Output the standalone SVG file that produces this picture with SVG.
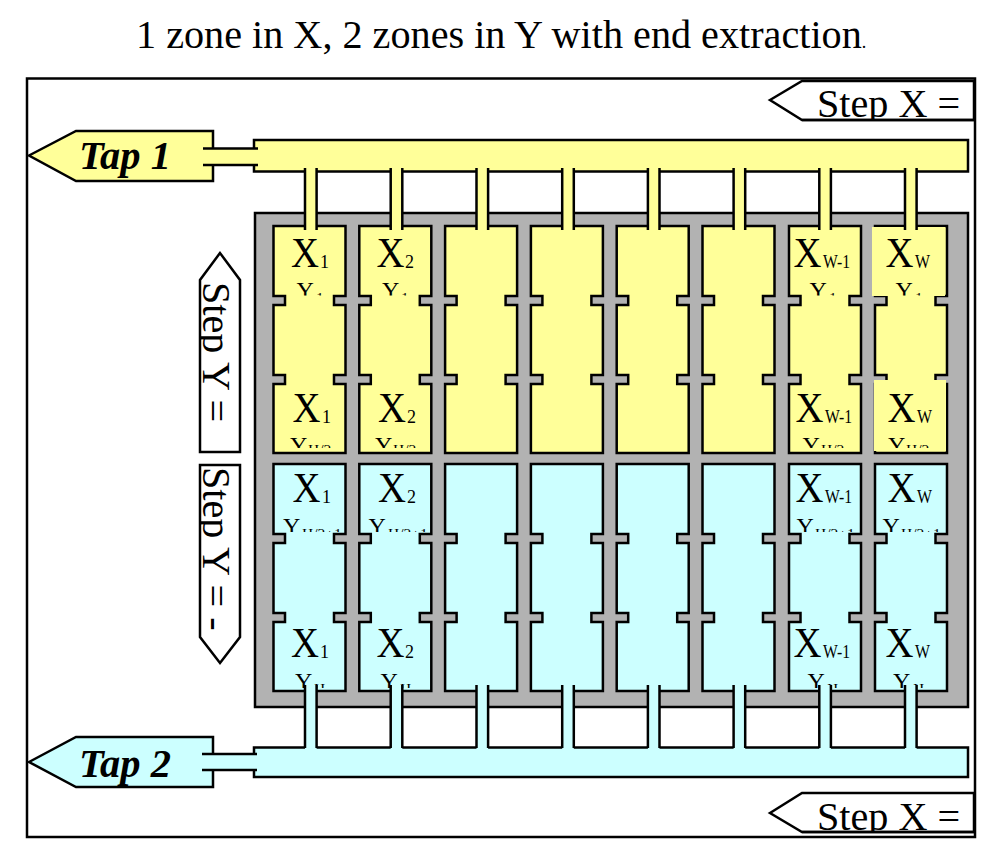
<svg xmlns="http://www.w3.org/2000/svg" width="1007" height="853" viewBox="0 0 1007 853">
<style>
text{font-family:"Liberation Serif","Times New Roman",serif;fill:#000}
.ln{stroke:#000;stroke-width:2.5;fill:none}
.y{fill:#ffff99;stroke:#000;stroke-width:2.5}
.c{fill:#ccffff;stroke:#000;stroke-width:2.5}
.w{fill:#fff;stroke:#000;stroke-width:2.5}
.yf{fill:#ffff99}
.cf{fill:#ccffff}
.t{font-size:40.2px}
.tap{font-size:40.500px;font-weight:bold;font-style:italic}
.X{font-size:42px}
.Y{font-size:24px}
.s{font-size:18px}
.s2{font-size:15.500px}
</style>
<defs>
<path id="cell" d="M0 0H72V70H60.5V79H72V149H60.5V158H72V227H0V158H11.5V149H0V79H11.5V70H0Z"/>
<g id="tubeY"><rect x="-5.8" y="-1" width="11.6" height="62" class="yf"/><path class="ln" d="M-5.8 -2V60M5.8 -2V60"/></g>
<g id="tubeC"><rect x="-5.8" y="0" width="11.6" height="65" class="cf"/><path class="ln" d="M-5.8 0V63M5.8 0V63"/></g>
<clipPath id="cTop"><polygon points="770,100 802,81 974,81 974,120 802,120"/></clipPath>
<clipPath id="cBot"><polygon points="770,813 802,793 974,793 974,832 802,832"/></clipPath>
<clipPath id="cS1"><rect x="200" y="253" width="40" height="199"/></clipPath>
<clipPath id="cS2"><rect x="200" y="465" width="40" height="198"/></clipPath>
<clipPath id="r1"><rect x="260" y="226" width="700" height="69.5"/></clipPath>
<clipPath id="r2"><rect x="260" y="384" width="700" height="64"/></clipPath>
<clipPath id="r3"><rect x="260" y="465" width="700" height="67"/></clipPath>
<clipPath id="r4"><rect x="260" y="623" width="700" height="65"/></clipPath>
</defs>
<rect width="1007" height="853" fill="#fff"/>
<text id="title" class="t" x="136" y="48">1 zone in X, 2 zones in Y with end extraction<tspan font-size="18">.</tspan></text>
<rect id="frame" x="27" y="78.500" width="948" height="758.500" fill="none" stroke="#000" stroke-width="2.500"/>

<g id="step-x-top"><polygon class="w" points="770,100 802,81 974,81 974,120 802,120"/><g clip-path="url(#cTop)"><text class="t" x="817" y="117">Step X =</text></g><path class="ln" d="M802 120H974"/></g>
<g id="step-x-bottom"><polygon class="w" points="770,813 802,793 974,793 974,832 802,832"/><g clip-path="url(#cBot)"><text class="t" x="817" y="829.500">Step X =</text></g><path class="ln" d="M802 832H974"/></g>
<g id="step-y-plus"><polygon class="w" points="220,253 200,280 200,452 240,452 240,280"/><g clip-path="url(#cS1)"><text class="t" transform="translate(203 282) rotate(90)">Step Y =</text></g></g>
<g id="step-y-minus"><polygon class="w" points="200,465 240,465 240,637 220,663 200,637"/><g clip-path="url(#cS2)"><text class="t" transform="translate(203 467) rotate(90)">Step Y = -</text></g></g>

<g id="tap-1"><polygon class="y" points="29,155.500 76,131 213,131 213,181 76,181"/><text class="tap" x="79" y="169">Tap 1</text></g>
<g id="tap-2"><polygon class="c" points="29,762 76,737 213,737 213,787 76,787"/><text class="tap" x="79" y="776.500">Tap 2</text></g>
<g id="bus-1"><rect class="y" x="254" y="140" width="714" height="31.500"/></g>
<g id="bus-2"><rect class="c" x="254" y="747.500" width="714" height="29.500"/></g>

<g id="grid-frame"><rect x="255" y="213" width="713" height="494" fill="#b2b2b2" stroke="#000" stroke-width="2.500"/></g>

<g id="cells-yellow">
<g id="cell-y1"><use href="#cell" class="y" x="273.500" y="226"/></g>
<g id="cell-y2"><use href="#cell" class="y" x="359.300" y="226"/></g>
<g id="cell-y3"><use href="#cell" class="y" x="445.100" y="226"/></g>
<g id="cell-y4"><use href="#cell" class="y" x="530.900" y="226"/></g>
<g id="cell-y5"><use href="#cell" class="y" x="616.700" y="226"/></g>
<g id="cell-y6"><use href="#cell" class="y" x="702.500" y="226"/></g>
<g id="cell-y7"><use href="#cell" class="y" x="789" y="226"/></g>
<g id="cell-y8"><use href="#cell" class="y" x="875" y="226"/>
<rect class="yf" x="872" y="227" width="73" height="69"/><rect class="yf" x="874" y="380" width="72" height="71"/></g>
</g>
<g id="cells-cyan">
<g id="cell-c1"><use href="#cell" class="c" x="273.500" y="464"/></g>
<g id="cell-c2"><use href="#cell" class="c" x="359.300" y="464"/></g>
<g id="cell-c3"><use href="#cell" class="c" x="445.100" y="464"/></g>
<g id="cell-c4"><use href="#cell" class="c" x="530.900" y="464"/></g>
<g id="cell-c5"><use href="#cell" class="c" x="616.700" y="464"/></g>
<g id="cell-c6"><use href="#cell" class="c" x="702.500" y="464"/></g>
<g id="cell-c7"><use href="#cell" class="c" x="789" y="464"/></g>
<g id="cell-c8"><use href="#cell" class="c" x="875" y="464"/></g>
</g>

<g id="labels">
<text class="X" x="291" y="267" textLength="28" lengthAdjust="spacingAndGlyphs">X</text><text class="s" x="320" y="268">1</text>
<text class="X" x="376.500" y="267" textLength="28" lengthAdjust="spacingAndGlyphs">X</text><text class="s" x="405" y="268">2</text>
<text class="X" x="793.500" y="267" textLength="28" lengthAdjust="spacingAndGlyphs">X</text><text class="s" x="823" y="268" textLength="27" lengthAdjust="spacingAndGlyphs">W-1</text>
<text class="X" x="885.500" y="267" textLength="28" lengthAdjust="spacingAndGlyphs">X</text><text class="s" x="915" y="268" textLength="15" lengthAdjust="spacingAndGlyphs">W</text>
<g clip-path="url(#r1)">
<text class="Y" x="296.500" y="298">Y<tspan class="s2" x="316" y="303">1</tspan></text>
<text class="Y" x="382" y="298">Y<tspan class="s2" x="401" y="303">1</tspan></text>
<text class="Y" x="809.500" y="298">Y<tspan class="s2" x="829" y="303">1</tspan></text>
<text class="Y" x="895.500" y="298">Y<tspan class="s2" x="915" y="303">1</tspan></text>
</g>
<text class="X" x="292.500" y="422" textLength="28" lengthAdjust="spacingAndGlyphs">X</text><text class="s" x="322" y="423">1</text>
<text class="X" x="378" y="422" textLength="28" lengthAdjust="spacingAndGlyphs">X</text><text class="s" x="407" y="423">2</text>
<text class="X" x="795.500" y="422" textLength="28" lengthAdjust="spacingAndGlyphs">X</text><text class="s" x="825" y="423" textLength="27" lengthAdjust="spacingAndGlyphs">W-1</text>
<text class="X" x="887.500" y="422" textLength="28" lengthAdjust="spacingAndGlyphs">X</text><text class="s" x="917" y="423" textLength="15" lengthAdjust="spacingAndGlyphs">W</text>
<g clip-path="url(#r2)">
<text class="Y" x="290" y="453">Y<tspan class="s2" x="308" y="455">H/2</tspan></text>
<text class="Y" x="375" y="453">Y<tspan class="s2" x="393" y="455">H/2</tspan></text>
<text class="Y" x="802.500" y="453">Y<tspan class="s2" x="821" y="455">H/2</tspan></text>
<text class="Y" x="888" y="453">Y<tspan class="s2" x="906" y="455">H/2</tspan></text>
</g>
<text class="X" x="292.500" y="502" textLength="28" lengthAdjust="spacingAndGlyphs">X</text><text class="s" x="322" y="503">1</text>
<text class="X" x="378" y="502" textLength="28" lengthAdjust="spacingAndGlyphs">X</text><text class="s" x="407" y="503">2</text>
<text class="X" x="795.500" y="502" textLength="28" lengthAdjust="spacingAndGlyphs">X</text><text class="s" x="825" y="503" textLength="27" lengthAdjust="spacingAndGlyphs">W-1</text>
<text class="X" x="887.500" y="502" textLength="28" lengthAdjust="spacingAndGlyphs">X</text><text class="s" x="917" y="503" textLength="15" lengthAdjust="spacingAndGlyphs">W</text>
<g clip-path="url(#r3)">
<text class="Y" x="283" y="534">Y<tspan class="s2" x="302" y="539">H/2+1</tspan></text>
<text class="Y" x="368.500" y="534">Y<tspan class="s2" x="388" y="539">H/2+1</tspan></text>
<text class="Y" x="796.500" y="534">Y<tspan class="s2" x="815" y="539">H/2+1</tspan></text>
<text class="Y" x="882.500" y="534">Y<tspan class="s2" x="901" y="539">H/2+1</tspan></text>
</g>
<text class="X" x="291" y="657" textLength="28" lengthAdjust="spacingAndGlyphs">X</text><text class="s" x="320" y="658">1</text>
<text class="X" x="376.500" y="657" textLength="28" lengthAdjust="spacingAndGlyphs">X</text><text class="s" x="405" y="658">2</text>
<text class="X" x="793.500" y="657" textLength="28" lengthAdjust="spacingAndGlyphs">X</text><text class="s" x="823" y="658" textLength="27" lengthAdjust="spacingAndGlyphs">W-1</text>
<text class="X" x="885.500" y="657" textLength="28" lengthAdjust="spacingAndGlyphs">X</text><text class="s" x="915" y="658" textLength="15" lengthAdjust="spacingAndGlyphs">W</text>
<g clip-path="url(#r4)">
<text class="Y" x="295" y="689">Y<tspan class="s2" x="314" y="694">H</tspan></text>
<text class="Y" x="380.500" y="689">Y<tspan class="s2" x="400" y="694">H</tspan></text>
<text class="Y" x="807.500" y="689">Y<tspan class="s2" x="827" y="694">H</tspan></text>
<text class="Y" x="893" y="689">Y<tspan class="s2" x="913" y="694">H</tspan></text>
</g>
</g>

<g id="connectors">
<g id="tap-link-1"><rect class="yf" x="203" y="148.500" width="56" height="16.500"/><path class="ln" d="M203 148.500H258M203 165H258"/></g>
<g id="tap-link-2"><rect class="cf" x="202" y="754" width="56" height="16"/><path class="ln" d="M202 754H257M202 770H257"/></g>
<use href="#tubeY" x="310.800" y="170"/><use href="#tubeY" x="396.500" y="170"/><use href="#tubeY" x="482.300" y="170"/><use href="#tubeY" x="568" y="170"/><use href="#tubeY" x="653.700" y="170"/><use href="#tubeY" x="739.400" y="170"/><use href="#tubeY" x="825.100" y="170"/><use href="#tubeY" x="910.800" y="170"/>
<use href="#tubeC" x="310.800" y="685"/><use href="#tubeC" x="396.500" y="685"/><use href="#tubeC" x="482.300" y="685"/><use href="#tubeC" x="568" y="685"/><use href="#tubeC" x="653.700" y="685"/><use href="#tubeC" x="739.400" y="685"/><use href="#tubeC" x="825.100" y="685"/><use href="#tubeC" x="910.800" y="685"/>
</g>
</svg>
